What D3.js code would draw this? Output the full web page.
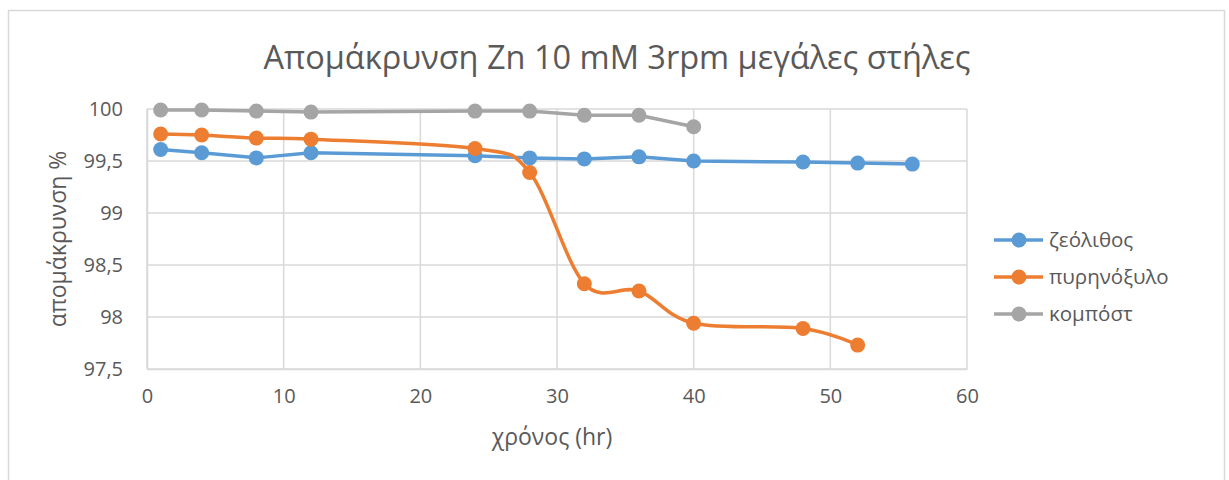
<!DOCTYPE html>
<html>
<head>
<meta charset="utf-8">
<script src="https://cdn.jsdelivr.net/npm/d3@7"></script>
<style>
  html, body { margin: 0; padding: 0; background: #fff; }
  svg { display: block; }
  svg text { font-family: "Open Sans", "Noto Sans", sans-serif; }
</style>
</head>
<body>
<svg id="chart" width="1229" height="480"></svg>
<script>
const titleText = "Απομάκρυνση Zn 10 mM 3rpm μεγάλες στήλες";
const xLabel = "χρόνος (hr)";
const yLabel = "απομάκρυνση %";
const xTicks = [0, 10, 20, 30, 40, 50, 60];
const yTicks = [97.5, 98, 98.5, 99, 99.5, 100];
const seriesNames = ["ζεόλιθος", "πυρηνόξυλο", "κομπόστ"];
const seriesColors = ["#5b9bd5", "#ed7d31", "#a5a5a5"];

const zeoTime = [1, 4, 8, 12, 24, 28, 32, 36, 40, 48, 52, 56];
const zeoVals = [99.61, 99.58, 99.53, 99.58, 99.55, 99.53, 99.52, 99.54, 99.50, 99.49, 99.48, 99.47];
const pyrTime = [1, 4, 8, 12, 24, 28, 32, 36, 40, 48, 52];
const pyrVals = [99.76, 99.75, 99.72, 99.71, 99.62, 99.39, 98.32, 98.25, 97.94, 97.89, 97.73];
const komTime = [1, 4, 8, 12, 24, 28, 32, 36, 40];
const komVals = [99.99, 99.99, 99.98, 99.97, 99.98, 99.98, 99.94, 99.94, 99.83];

const series = [
  { name: seriesNames[0], color: seriesColors[0], t: zeoTime, v: zeoVals, smooth: false },
  { name: seriesNames[1], color: seriesColors[1], t: pyrTime, v: pyrVals, smooth: true },
  { name: seriesNames[2], color: seriesColors[2], t: komTime, v: komVals, smooth: false }
];

const svg = d3.select("#chart");
const textColor = "#595959";
const gridColor = "#d9d9d9";

// chart border
svg.append("rect").attr("x", 8.5).attr("y", 10.5).attr("width", 1216).attr("height", 480)
  .attr("fill", "#fff").attr("stroke", gridColor).attr("stroke-width", 1.5);

const x = d3.scaleLinear().domain([0, 60]).range([147, 967]);
const y = d3.scaleLinear().domain([97.5, 100]).range([369, 109]);

// gridlines
svg.append("g").selectAll("line").data(yTicks).join("line")
  .attr("x1", x(0)).attr("x2", x(60))
  .attr("y1", d => y(d)).attr("y2", d => y(d))
  .attr("stroke", gridColor).attr("stroke-width", 1.5);
svg.append("g").selectAll("line").data(xTicks).join("line")
  .attr("x1", d => x(d)).attr("x2", d => x(d))
  .attr("y1", y(100)).attr("y2", y(97.5))
  .attr("stroke", gridColor).attr("stroke-width", 1.5);

// axes
const xAxis = d3.axisBottom(x).tickValues(xTicks).tickSize(0).tickPadding(20).tickFormat(d3.format("d"));
const gx = svg.append("g").attr("transform", `translate(0,${y(97.5)})`).call(xAxis);
gx.attr("font-family", null).attr("font-size", null);
gx.select(".domain").attr("stroke", gridColor).attr("stroke-width", 1.5);
gx.selectAll("text").attr("fill", textColor).attr("font-size", 20);

const fmtY = d => String(d).replace(".", ",");
const yAxis = d3.axisLeft(y).tickValues(yTicks).tickSize(0).tickPadding(24).tickFormat(fmtY);
const gy = svg.append("g").attr("transform", `translate(${x(0)},0)`).call(yAxis);
gy.attr("font-family", null).attr("font-size", null);
gy.select(".domain").attr("stroke", gridColor).attr("stroke-width", 1.5);
gy.selectAll("text").attr("fill", textColor).attr("font-size", 20);

// title
svg.append("text").attr("x", 617).attr("y", 69).attr("text-anchor", "middle")
  .attr("fill", textColor).attr("font-size", 32.5).text(titleText);

// axis titles
svg.append("text").attr("x", 552).attr("y", 445).attr("text-anchor", "middle")
  .attr("fill", textColor).attr("font-size", 23).text(xLabel);
svg.append("text").attr("transform", `translate(66,${y(98.75)}) rotate(-90)`)
  .attr("text-anchor", "middle").attr("fill", textColor).attr("font-size", 23).text(yLabel);

// series
const plot = svg.append("g");
series.forEach(s => {
  const pts = s.t.map((t, i) => [t, s.v[i]]);
  const line = d3.line().x(d => x(d[0])).y(d => y(d[1]))
    .curve(s.smooth ? d3.curveCatmullRom.alpha(0) : d3.curveLinear);
  plot.append("path").datum(pts).attr("d", line)
    .attr("fill", "none").attr("stroke", s.color).attr("stroke-width", 3.5)
    .attr("stroke-linejoin", "round").attr("stroke-linecap", "round");
  plot.append("g").selectAll("circle").data(pts).join("circle")
    .attr("cx", d => x(d[0])).attr("cy", d => y(d[1])).attr("r", 7.5)
    .attr("fill", s.color);
});

// legend
const legend = svg.append("g");
series.forEach((s, i) => {
  const ly = 240 + i * 37;
  legend.append("line").attr("x1", 994).attr("x2", 1043).attr("y1", ly).attr("y2", ly)
    .attr("stroke", s.color).attr("stroke-width", 3.5);
  legend.append("circle").attr("cx", 1019).attr("cy", ly).attr("r", 7.5).attr("fill", s.color);
  legend.append("text").attr("x", 1049).attr("y", ly).attr("dy", "0.35em")
    .attr("fill", textColor).attr("font-size", 20.5).text(s.name);
});
</script>
</body>
</html>
